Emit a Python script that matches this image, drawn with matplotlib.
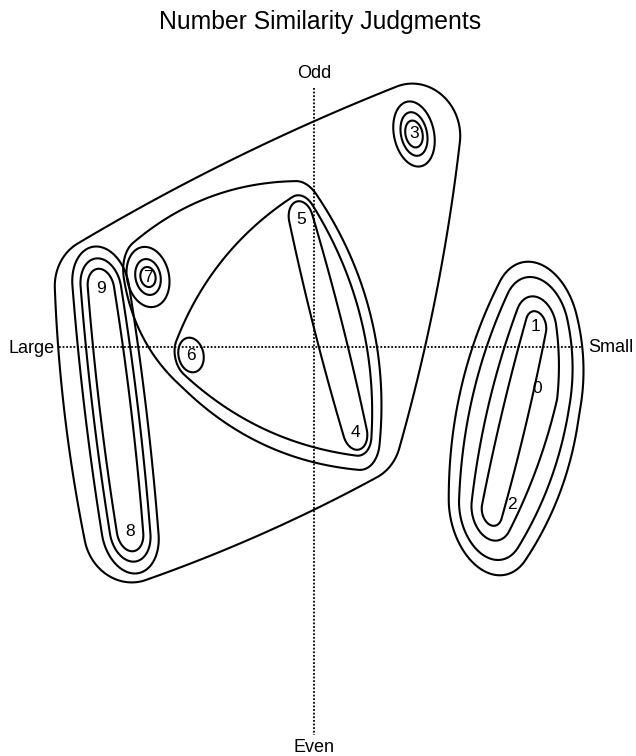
import numpy as np
import matplotlib
matplotlib.use('Agg')
import matplotlib.pyplot as plt
from matplotlib.patches import Polygon

plt.rcParams['font.family'] = ['Liberation Sans', 'DejaVu Sans']

# two-dimensional solution for the digits 0-9
digits = [0, 1, 2, 3, 4, 5, 6, 7, 8, 9]
dim_x = [2.23, 2.22, 1.78, 1.00, 0.41, -0.13, -1.23, -1.66, -1.84, -2.13]
dim_y = [-0.41, 0.21, -1.64, 2.13, -0.85, 1.28, -0.08, 0.70, -1.85, 0.59]

# nested clusters, each drawn as one closed contour
clusters = [
    [3], [3], [3],
    [7], [7], [7],
    [6],
    [4, 5],
    [4, 5, 6],
    [4, 5, 6, 7],
    [8, 9], [8, 9], [8, 9],
    [3, 4, 5, 6, 7, 8, 9],
    [1, 2],
    [0, 1, 2], [0, 1, 2], [0, 1, 2],
]

# contour shape: pen radius, pen aspect, edge bulge
shapes = [
    (0.085, 1.6, 0), (0.13, 1.7, 0), (0.20, 1.65, 0),
    (0.075, 1.35, 0), (0.125, 1.45, 0), (0.21, 1.45, 0),
    (0.125, 1.4, 0),
    (0.12, 1.5, 0.01),
    (0.16, 1.5, 0.08),
    (0.24, 1.6, 0.09),
    (0.13, 1.5, 0.01), (0.20, 1.5, 0.01), (0.28, 1.5, 0.01),
    (0.46, 1.1, 0.02),
    (0.10, 1.5, 0.01),
    (0.20, 1.5, 0.03), (0.32, 1.55, 0.05), (0.42, 1.55, 0.06),
]
TILT = np.radians(12)

label_offset = {2: (14, 5)}


def convex_hull(p):
    p = sorted(map(tuple, p))
    def cross(o, a, b):
        return (a[0] - o[0]) * (b[1] - o[1]) - (a[1] - o[1]) * (b[0] - o[0])
    lower, upper = [], []
    for q in p:
        while len(lower) >= 2 and cross(lower[-2], lower[-1], q) <= 0:
            lower.pop()
        lower.append(q)
    for q in reversed(p):
        while len(upper) >= 2 and cross(upper[-2], upper[-1], q) <= 0:
            upper.pop()
        upper.append(q)
    return np.array(lower[:-1] + upper[:-1])


def outline(p, r, asp, bulge):
    poly = convex_hull(p) if len(p) > 2 else np.array(p)
    if len(poly) == 1:
        P = poly
    else:
        parts = []
        s = np.linspace(0, 1, 80)
        for i in range(len(poly)):
            a, b = poly[i], poly[(i + 1) % len(poly)]
            d = b - a
            L = np.hypot(*d)
            nrm = np.array([d[1], -d[0]]) / L
            parts.append(a + s[:, None] * d + (bulge * L * 4 * s * (1 - s))[:, None] * nrm)
        P = np.vstack(parts)
    th = np.linspace(0, 2 * np.pi, 1440, endpoint=False)
    n = np.column_stack([np.cos(th), np.sin(th)])
    idx = np.argmax(P @ n.T, axis=0)
    rot = np.array([[np.cos(TILT), -np.sin(TILT)], [np.sin(TILT), np.cos(TILT)]])
    A = rot @ np.diag([1, asp])
    M = A @ A.T
    Mn = n @ M
    pen = r * Mn / np.sqrt((n * Mn).sum(1))[:, None]
    return P[idx] + pen


fig = plt.figure(figsize=(6.36, 7.56), dpi=100)
ax = fig.add_axes([0, 0, 1, 1])
ax.set_xlim(-3.14, 3.22)
ax.set_ylim(-4.09, 3.47)
ax.axis('off')

# dotted reference axes
ax.plot([-2.55, 2.69], [0, 0], color='black', lw=1.3, ls=(0, (1, 1)))
ax.plot([0, 0], [2.59, -3.88], color='black', lw=1.3, ls=(0, (1, 1)))

pos = {d: (x, y) for d, x, y in zip(digits, dim_x, dim_y)}
for members, (r, asp, bulge) in zip(clusters, shapes):
    pts = np.array([pos[m] for m in members])
    c = outline(pts, r, asp, bulge)
    ax.add_patch(Polygon(c, closed=True, fill=False, edgecolor='black', lw=1.5, joinstyle='round'))

for d in digits:
    ax.annotate(str(d), pos[d], xytext=label_offset.get(d, (0, 0)), textcoords='offset points',
                ha='center', va='center', fontsize=12.5)

ax.text(0, 2.73, 'Odd', ha='center', va='center', fontsize=13)
ax.text(0, -4.01, 'Even', ha='center', va='center', fontsize=13)
ax.text(-2.82, -0.01, 'Large', ha='center', va='center', fontsize=13)
ax.text(2.97, 0, 'Small', ha='center', va='center', fontsize=13)
fig.text(0.503, 0.971, 'Number Similarity Judgments', ha='center', va='center', fontsize=17.8)

fig.savefig('out.png', dpi=100)
